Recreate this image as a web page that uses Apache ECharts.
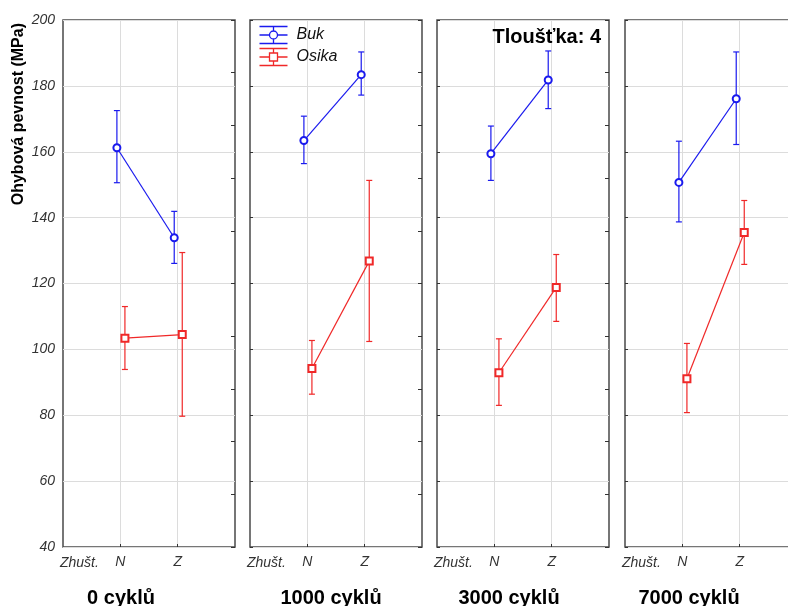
<!DOCTYPE html>
<html>
<head>
<meta charset="utf-8">
<script src="https://cdn.jsdelivr.net/npm/echarts@6/dist/echarts.min.js"></script>
<style>
    html, body { margin: 0; padding: 0; background: #fff; }
    #chart { width: 788px; height: 606px; }
</style>
</head>
<body>
<div id="chart"></div>
<script>
// data
const cycles = ['0 cyklů', '1000 cyklů', '3000 cyklů', '7000 cyklů'];
const levels = ['N', 'Z'];
const yTicks = [40, 60, 80, 100, 120, 140, 160, 180, 200];

const bukMean  = [[161.2, 133.9], [163.4, 183.4], [159.4, 181.8], [150.7, 176.1]];
const bukLow   = [[150.6, 126.1], [156.4, 177.2], [151.3, 173.1], [138.7, 162.2]];
const bukHigh  = [[172.5, 141.9], [170.8, 190.3], [167.8, 190.6], [163.2, 190.3]];

const osikaMean = [[103.4, 104.5], [94.2, 126.8], [92.9, 118.8], [91.1, 135.5]];
const osikaLow  = [[93.9, 79.7], [86.4, 102.4], [83.0, 108.5], [80.8, 125.8]];
const osikaHigh = [[113.0, 129.4], [102.7, 151.3], [103.2, 128.8], [101.8, 145.2]];

// layout
const panelLeft = [63, 250, 437, 625];
const panelWidth = 172;
const panelTop = 20;
const panelHeight = 527;
const titleCenter = [121, 331, 509, 689];
const bukShift = -0.06;
const osikaShift = 0.08;
const blue = '#1a1aee';
const red = '#f02828';
const fontFamily = '"Liberation Sans", Arial, sans-serif';

const myChart = echarts.init(document.getElementById('chart'));

function errorBar(color) {
    return function (params, api) {
        const x = api.value(0);
        const top = api.coord([x, api.value(2)]);
        const bottom = api.coord([x, api.value(1)]);
        const cap = 3;
        const style = { stroke: color, lineWidth: 1.2 };
        return {
            type: 'group',
            children: [
                { type: 'line', shape: { x1: top[0], y1: top[1], x2: bottom[0], y2: bottom[1] }, style: style },
                { type: 'line', shape: { x1: top[0] - cap, y1: top[1], x2: top[0] + cap, y2: top[1] }, style: style },
                { type: 'line', shape: { x1: bottom[0] - cap, y1: bottom[1], x2: bottom[0] + cap, y2: bottom[1] }, style: style }
            ]
        };
    };
}

const grids = [], xAxes = [], yAxes = [], series = [], titles = [];

cycles.forEach(function (name, p) {
    grids.push({
        left: panelLeft[p], top: panelTop, width: panelWidth, height: panelHeight,
        outerBoundsMode: 'none', // last panel runs past the picture edge
        show: true, borderColor: '#4a4a4a', borderWidth: 1.5, backgroundColor: '#fff'
    });
    xAxes.push({
        type: 'value', gridIndex: p, min: 0, max: 3, interval: 1,
        name: 'Zhušt.', nameLocation: 'start', nameGap: 0,
        nameTextStyle: {
            fontFamily: fontFamily, fontStyle: 'italic', fontSize: 14, color: '#333',
            align: 'left', verticalAlign: 'top', padding: [9, 0, 0, -3]
        },
        axisLine: { show: false },
        axisTick: { show: true, inside: true, length: 3, lineStyle: { color: '#333' },
            customValues: [1, 2] },
        axisLabel: {
            fontFamily: fontFamily, fontStyle: 'italic', fontSize: 14, color: '#333', margin: 8,
            customValues: [1, 2],
            formatter: function (v) { return levels[v - 1] || ''; }
        },
        splitLine: { show: true, lineStyle: { color: '#dcdcdc', width: 1 } }
    });
    yAxes.push({
        type: 'value', gridIndex: p, min: yTicks[0], max: yTicks[yTicks.length - 1], interval: 20,
        axisLine: { show: false },
        axisTick: { show: p > 0, inside: true, length: 3, lineStyle: { color: '#333' } },
        axisLabel: {
            show: p === 0, fontFamily: fontFamily, fontStyle: 'italic', fontSize: 14, color: '#333', margin: 8
        },
        splitLine: { show: true, lineStyle: { color: '#dcdcdc', width: 1 } }
    });
    // right-hand tick marks (separate scale in the original)
    yAxes.push({
        type: 'value', gridIndex: p, position: 'right', min: 40, max: 200, interval: 16,
        axisLine: { show: false },
        axisTick: { show: true, inside: true, length: 4, lineStyle: { color: '#333' } },
        axisLabel: { show: false },
        splitLine: { show: false }
    });

    const bukPts = levels.map(function (l, i) { return [i + 1 + bukShift, bukMean[p][i]]; });
    const osikaPts = levels.map(function (l, i) { return [i + 1 + osikaShift, osikaMean[p][i]]; });
    const bukBars = levels.map(function (l, i) { return [i + 1 + bukShift, bukLow[p][i], bukHigh[p][i]]; });
    const osikaBars = levels.map(function (l, i) { return [i + 1 + osikaShift, osikaLow[p][i], osikaHigh[p][i]]; });

    series.push({
        type: 'custom', xAxisIndex: p, yAxisIndex: p * 2, renderItem: errorBar(blue),
        encode: { x: 0, y: [1, 2] }, data: bukBars, z: 2, silent: true
    });
    series.push({
        type: 'custom', xAxisIndex: p, yAxisIndex: p * 2, renderItem: errorBar(red),
        encode: { x: 0, y: [1, 2] }, data: osikaBars, z: 2, silent: true
    });
    series.push({
        name: 'Buk', type: 'line', xAxisIndex: p, yAxisIndex: p * 2, data: bukPts,
        symbol: 'emptyCircle', symbolSize: 7, z: 3,
        lineStyle: { color: blue, width: 1.2 }, itemStyle: { color: blue, borderWidth: 1.2 }
    });
    series.push({
        name: 'Osika', type: 'line', xAxisIndex: p, yAxisIndex: p * 2, data: osikaPts,
        symbol: 'emptyRect', symbolSize: 7, z: 3,
        lineStyle: { color: red, width: 1.2 }, itemStyle: { color: red, borderWidth: 1.2 }
    });

    titles.push({
        text: name, left: titleCenter[p] - 5, top: 583, textAlign: 'center',
        textStyle: { fontFamily: fontFamily, fontWeight: 'bold', fontSize: 20, color: '#000' }
    });
});

titles.push({
    text: 'Tloušťka: 4', right: 182, top: 22,
    textStyle: { fontFamily: fontFamily, fontWeight: 'bold', fontSize: 20, color: '#000' }
});

const legendIcon = 'path://M0,0 L28,0 M0,17 L28,17 M0,8.5 L10,8.5 M18,8.5 L28,8.5 M14,0 L14,4.5 M14,12.5 L14,17 ' +
    'M10,8.5 A4,4 0 1,0 18,8.5 A4,4 0 1,0 10,8.5';
const legendIconRect = 'path://M0,0 L28,0 M0,17 L28,17 M0,8.5 L10,8.5 M18,8.5 L28,8.5 M14,0 L14,4.5 M14,12.5 L14,17 ' +
    'M10,4.5 L18,4.5 L18,12.5 L10,12.5 Z';

const option = {
    animation: false,
    title: titles,
    legend: {
        orient: 'vertical', left: 257, top: 24, padding: 0, itemWidth: 28, itemHeight: 17, itemGap: 0,
        textStyle: { fontFamily: fontFamily, fontStyle: 'italic', fontSize: 16, color: '#111', padding: [0, 0, 0, 4] },
        data: [
            { name: 'Buk', icon: legendIcon, itemStyle: { color: 'none', borderColor: blue, borderWidth: 1.3 } },
            { name: 'Osika', icon: legendIconRect, itemStyle: { color: 'none', borderColor: red, borderWidth: 1.3 } }
        ]
    },
    graphic: [{
        type: 'text', left: 11, top: 23,
        style: {
            text: 'Ohybová pevnost (MPa)', fontFamily: fontFamily, fontWeight: 'bold', fontSize: 16, fill: '#000'
        },
        rotation: Math.PI / 2
    }],
    grid: grids,
    xAxis: xAxes,
    yAxis: yAxes,
    series: series
};

myChart.setOption(option);
</script>
</body>
</html>
